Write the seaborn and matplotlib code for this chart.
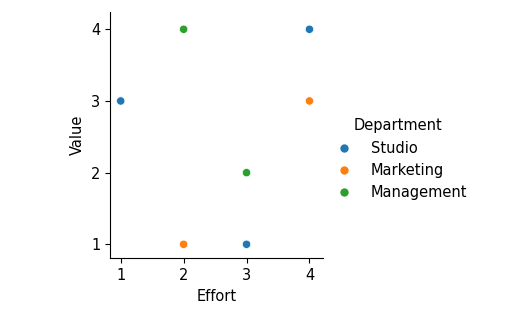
import matplotlib
matplotlib.use("Agg")
import matplotlib.pyplot as plt
import seaborn as sns
import pandas as pd

departments = ["Studio", "Studio", "Studio", "Marketing", "Marketing", "Management", "Management"]
effort = [1, 3, 4, 2, 4, 2, 3]
value = [3, 1, 4, 1, 3, 4, 2]
hue_order = ["Studio", "Marketing", "Management"]
ticks = [1, 2, 3, 4]

plt.rcParams["font.family"] = ["DejaVu Sans"]
plt.rcParams["font.size"] = 10.5

df = pd.DataFrame({"Effort": effort, "Value": value, "Department": departments})

g = sns.relplot(data=df, x="Effort", y="Value", hue="Department",
                hue_order=hue_order, s=36)
fig = g.figure
fig.set_size_inches(5.09, 3.23)
fig.set_dpi(100)
ax = g.ax
ax.set_position([110 / 509, 1 - 258.3 / 323, 213.3 / 509, 246 / 323])
ax.set_xticks(ticks)
ax.set_yticks(ticks)
ax.set_xlim(0.83, 4.22)
ax.set_ylim(0.805, 4.237)
sns.move_legend(g, "upper left", bbox_to_anchor=(0.622, 0.674), frameon=False)
fig.savefig("out.png", dpi=100)
